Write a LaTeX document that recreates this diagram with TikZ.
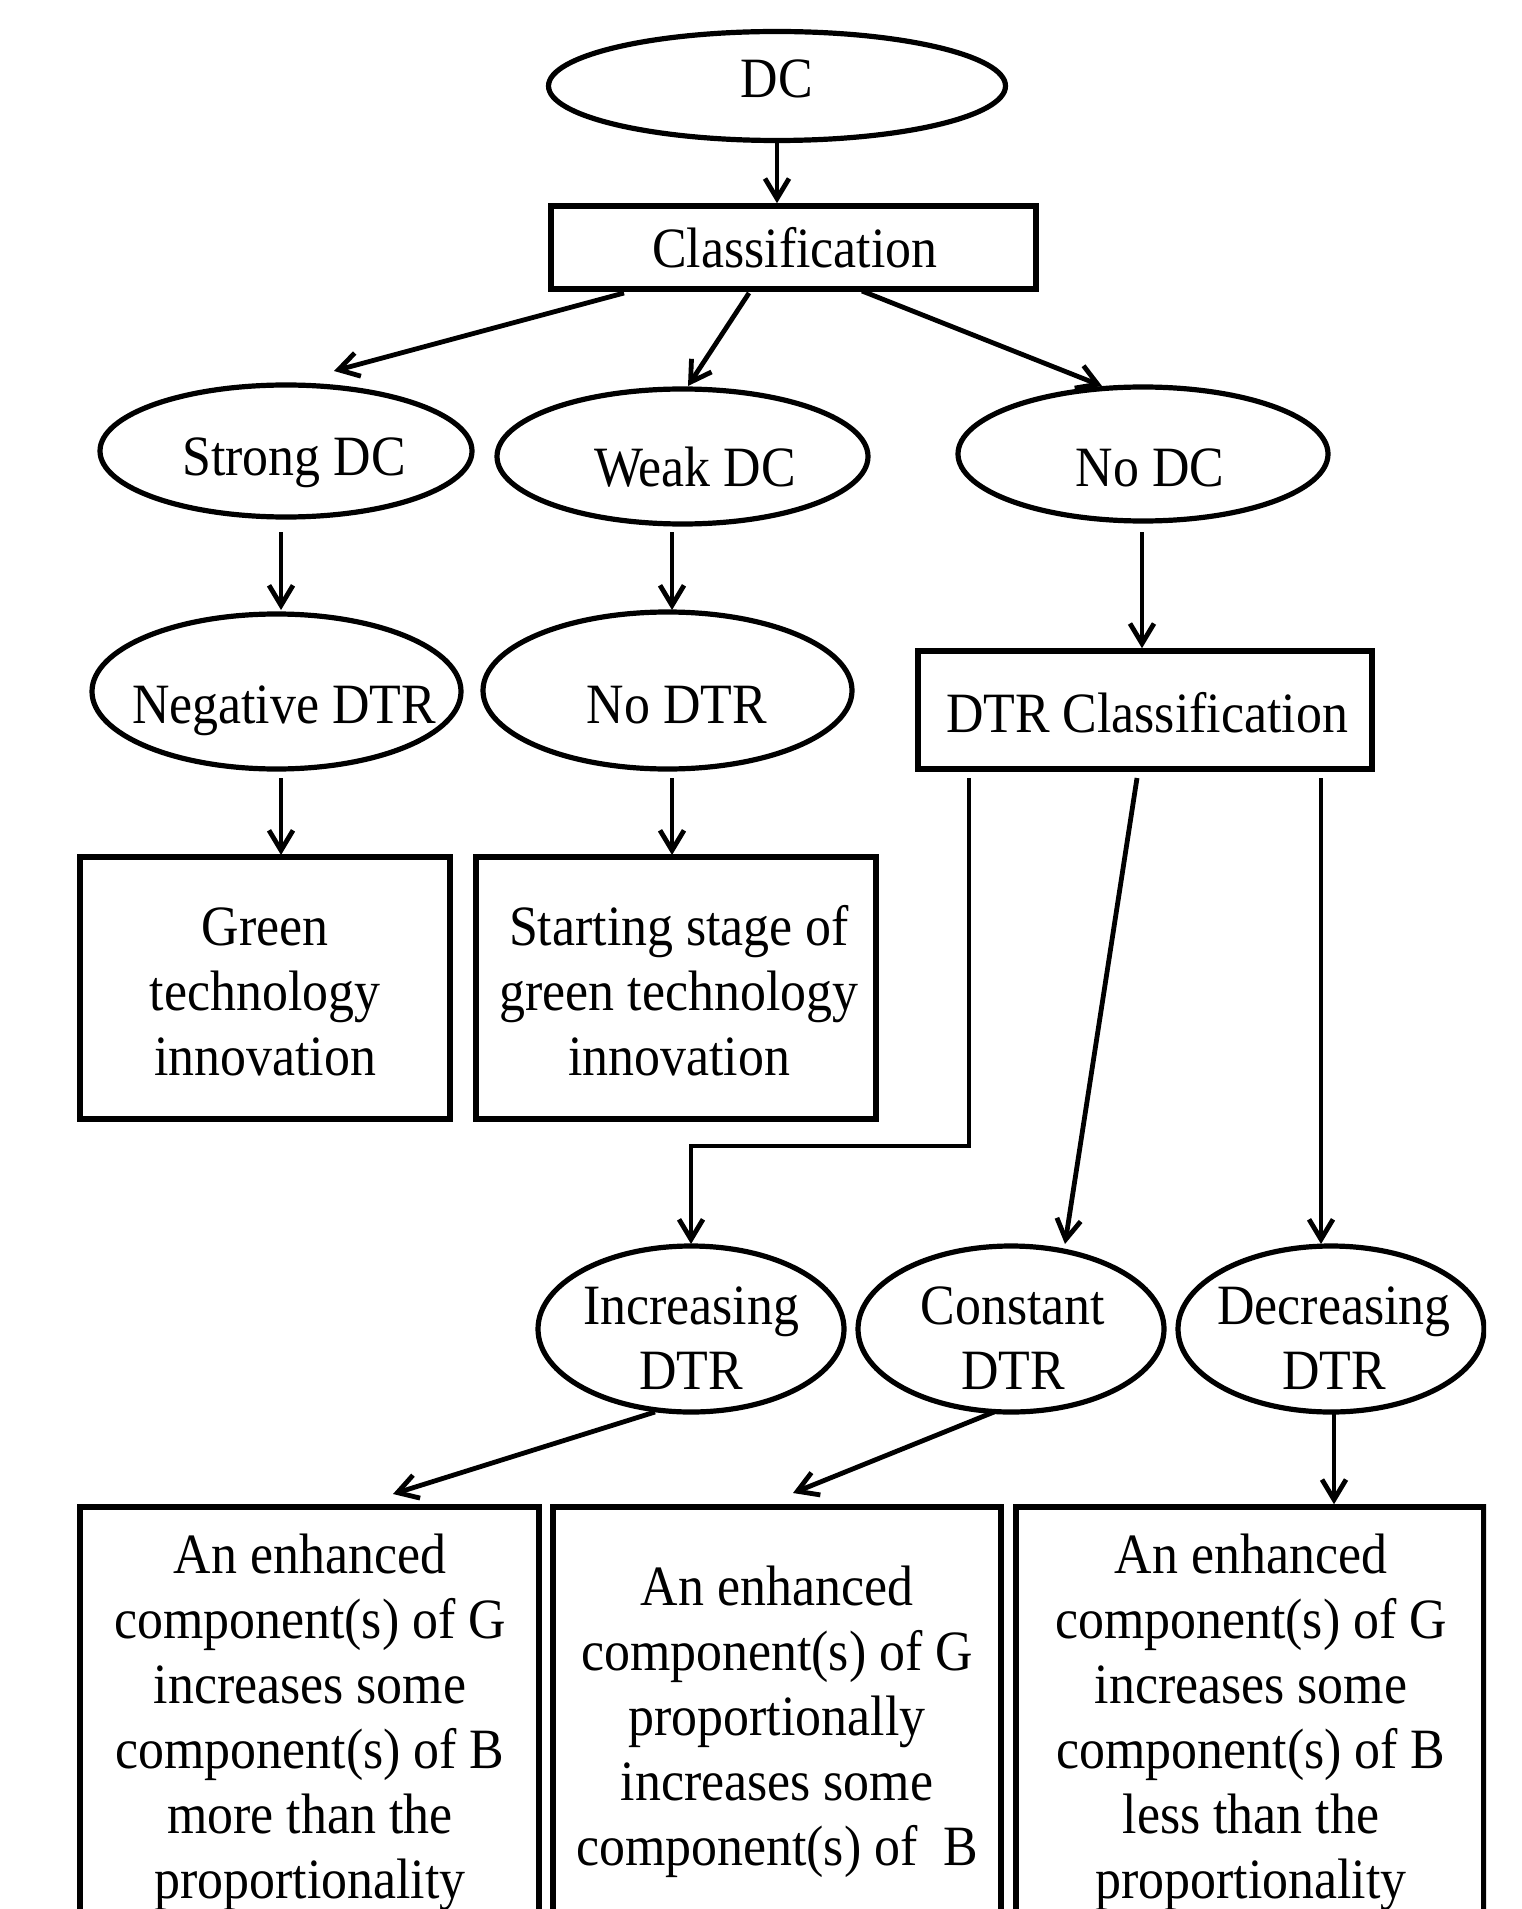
\documentclass[tikz,border=0pt]{standalone}
\usepackage{fontspec}
\setmainfont{Liberation Serif}[FakeStretch=0.91]
\usetikzlibrary{arrows.meta,shapes.geometric}
\begin{document}
\begin{tikzpicture}[x=0.5pt,y=-0.5pt,
  box/.style={draw, rectangle, line width=2.8pt, inner sep=0pt},
  oval/.style={draw, ellipse, line width=2.6pt, inner sep=0pt},
  txt/.style={font=\fontsize{28.5}{32.5}\selectfont, inner sep=0pt, align=center, anchor=base},
  arr/.style={line width=2.4pt, -{Straight Barb[length=10pt,width=12pt]}}]
\useasboundingbox (0,0) rectangle (1521,1909);
\fill[white] (0,0) rectangle (1521,1909);
\clip (0,0) rectangle (1486,1909);

% shapes
\node[oval, minimum width=228.5pt, minimum height=54.5pt] (dc) at (777,86) {};
\node[box, minimum width=242.5pt, minimum height=41.5pt] (cls) at (793.5,247.5) {};
\node[oval, minimum width=186pt, minimum height=66pt] (strong) at (286,451) {};
\node[oval, minimum width=185.5pt, minimum height=67.5pt] (weak) at (682.5,456.5) {};
\node[oval, minimum width=185pt, minimum height=67pt] (nodc) at (1143,454) {};
\node[oval, minimum width=184.5pt, minimum height=77.5pt] (neg) at (276.5,691.5) {};
\node[oval, minimum width=184.5pt, minimum height=78.5pt] (nodtr) at (667.5,690.5) {};
\node[box, minimum width=227pt, minimum height=59pt] (dtrc) at (1145,710) {};
\node[box, minimum width=185pt, minimum height=131pt] (green) at (265,988) {};
\node[box, minimum width=200pt, minimum height=131pt] (start) at (676,988) {};
\node[oval, minimum width=153pt, minimum height=83pt] (inc) at (691,1329) {};
\node[oval, minimum width=153pt, minimum height=83pt] (const) at (1011,1329) {};
\node[oval, minimum width=153pt, minimum height=83pt] (dec) at (1331,1329) {};
\node[box, minimum width=229.5pt, minimum height=226.5pt] (b1) at (309.5,1733.5) {};
\node[box, minimum width=224pt, minimum height=226.5pt] (b2) at (777,1733.5) {};
\node[box, minimum width=234pt, minimum height=226.5pt] (b3) at (1250,1733.5) {};

% texts (anchor=base is the baseline of the last line)
\node[txt] (dct) at (777,98) {DC};
\node[txt] (clst) at (795,268) {Classification};
\node[txt] (strongt) at (294,475) {Strong DC};
\node[txt] (weakt) at (695,487) {Weak DC};
\node[txt] (nodct) at (1150,487) {No DC};
\node[txt] (negt) at (284,723) {Negative DTR};
\node[txt] (nodtrt) at (677,723) {No DTR};
\node[txt] (dtrct) at (1147,732) {DTR Classification};
\node[txt] (greent) at (265,1075) {Green\\technology\\innovation};
\node[txt] (startt) at (679,1075) {Starting stage of\\green technology\\innovation};
\node[txt] (inct) at (691,1389) {Increasing\\DTR};
\node[txt] (constt) at (1013,1389) {Constant\\DTR};
\node[txt] (dect) at (1334,1389) {Decreasing\\DTR};
\node[txt] (b1t) at (310,1898) {An enhanced\\component(s) of G\\increases some\\component(s) of B\\more than the\\proportionality};
\node[txt] (b2t) at (777,1865) {An enhanced\\component(s) of G\\proportionally\\increases some\\component(s) of\ \ B};
\node[txt] (b3t) at (1251,1898) {An enhanced\\component(s) of G\\increases some\\component(s) of B\\less than the\\proportionality};

% free connector ends
\coordinate (c2s) at (624,293);  \coordinate (c2e) at (334,371);
\coordinate (c3s) at (749,293);  \coordinate (c3e) at (688,386);
\coordinate (c4s) at (862,291);  \coordinate (c4e) at (1102,386);
\coordinate (c5s) at (281,532);  \coordinate (c5e) at (281,610);
\coordinate (c6s) at (672,532);  \coordinate (c6e) at (672,610);
\coordinate (c7s) at (1142,532);
\coordinate (c8s) at (281,778);  \coordinate (c8e) at (281,855);
\coordinate (c9s) at (672,778);  \coordinate (c9e) at (672,855);
\coordinate (c10s) at (969,778); \coordinate (c10e) at (691,1244);
\coordinate (c11s) at (1137,778); \coordinate (c11e) at (1065,1244);
\coordinate (c12s) at (1321,778); \coordinate (c12e) at (1321,1244);
\coordinate (c13s) at (655,1412); \coordinate (c13e) at (393,1494);
\coordinate (c14s) at (994,1412); \coordinate (c14e) at (793,1493);
\coordinate (c15s) at (1334,1412);

% connectors
\draw[arr] (dc.south) -- (dc.south |- cls.north);
\draw[arr] (c2s) -- (c2e);
\draw[arr] (c3s) -- (c3e);
\draw[arr] (c4s) -- (c4e);
\draw[arr] (c5s) -- (c5e);
\draw[arr] (c6s) -- (c6e);
\draw[arr] (c7s) -- (c7s |- dtrc.north);
\draw[arr] (c8s) -- (c8e);
\draw[arr] (c9s) -- (c9e);
\draw[arr] (c10s) |- (691,1146) -- (c10e);
\draw[arr] (c11s) -- (c11e);
\draw[arr] (c12s) -- (c12e);
\draw[arr] (c13s) -- (c13e);
\draw[arr] (c14s) -- (c14e);
\draw[arr] (c15s) -- (c15s |- b3.north);
\end{tikzpicture}
\end{document}
